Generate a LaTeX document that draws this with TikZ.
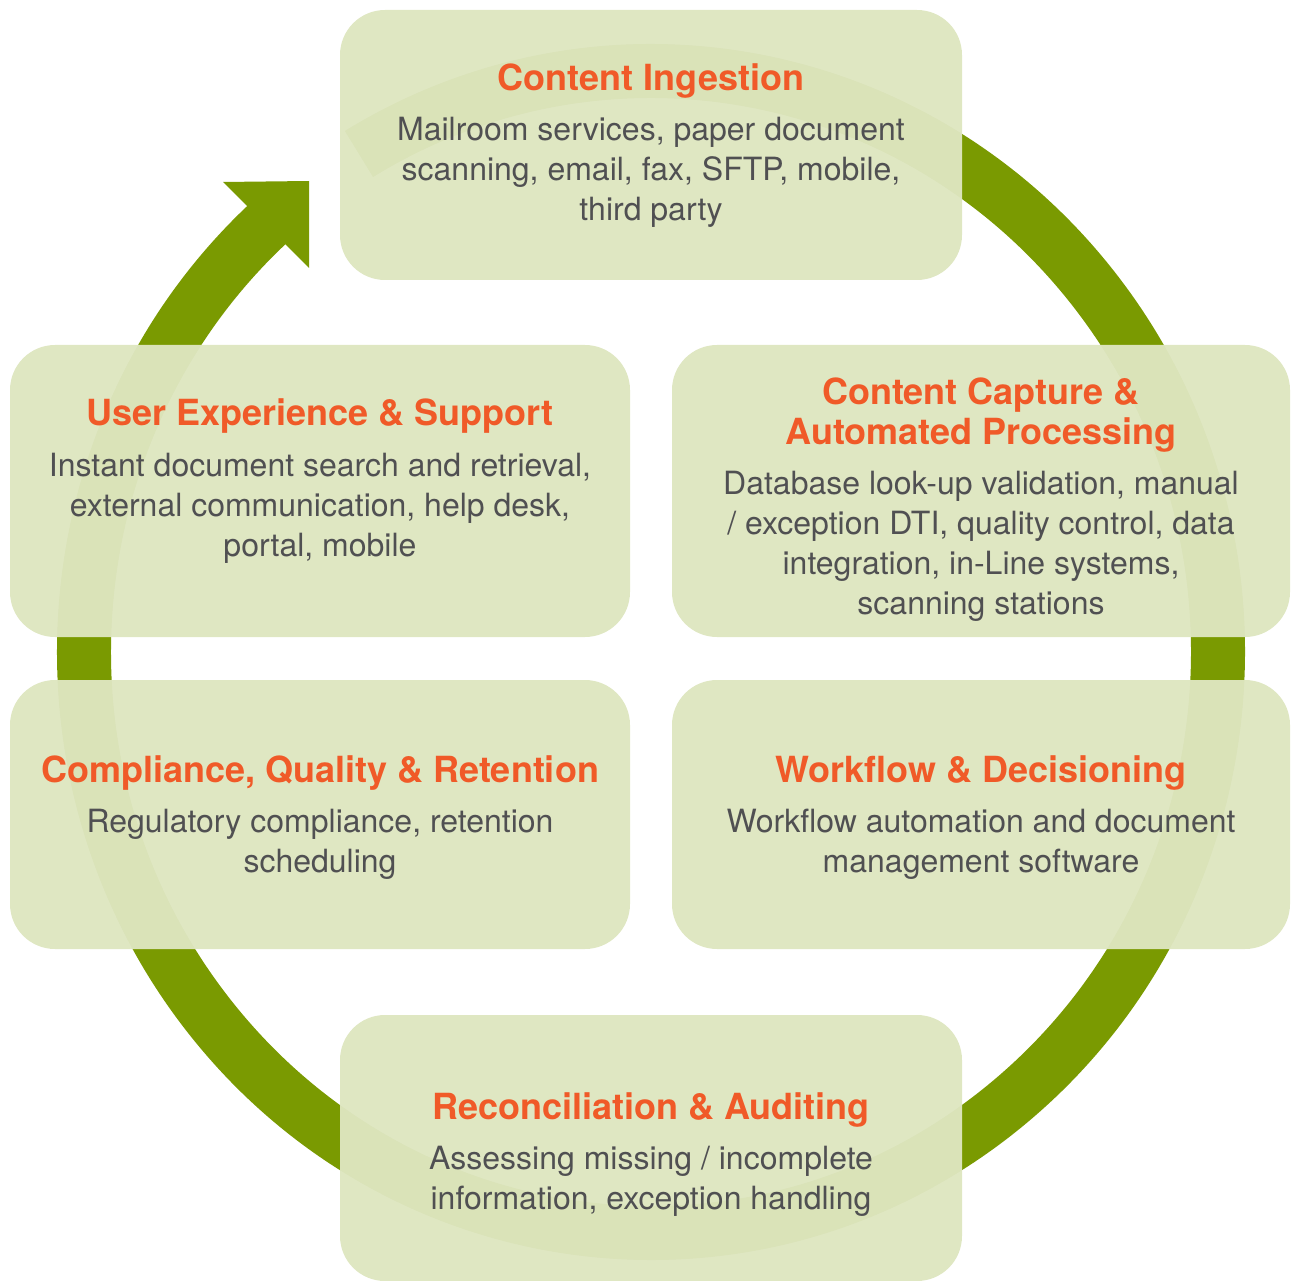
\documentclass[tikz,border=0pt]{standalone}
\usepackage{fontspec}
\setmainfont{TeX Gyre Heros}
\definecolor{ringgreen}{RGB}{122,154,1}
\definecolor{boxfill}{RGB}{222,230,192}
\definecolor{titleorange}{RGB}{240,90,40}
\definecolor{bodygray}{RGB}{80,80,82}
\begin{document}
\begin{tikzpicture}[x=1pt,y=-1pt,
  box/.style={draw=none, fill=boxfill, fill opacity=0.96, rounded corners=45pt, inner sep=0pt},
  ttl/.style={text=titleorange, font=\fontsize{36}{40}\bfseries\selectfont, align=center, anchor=base, inner sep=0pt},
  bdy/.style={text=bodygray, font=\fontsize{32}{40}\selectfont, align=center, anchor=base, inner sep=0pt},
  ring/.style={draw=ringgreen, line width=54pt}]
\useasboundingbox (0,0) rectangle (1291,1281);
% cycle ring
\draw[ring] ([shift={(-130:567 and 581)}]651,652) arc[start angle=-130, end angle=-481, x radius=567, y radius=581];
\fill[ringgreen] (223,182) -- (309,181) -- (309,268) -- cycle;
% boxes
\node[box, minimum width=622pt, minimum height=270pt] (ci) at (651,145) {};
\node[box, minimum width=620pt, minimum height=292pt] (ux) at (320,491) {};
\node[box, minimum width=618pt, minimum height=292pt] (cc) at (981,491) {};
\node[box, minimum width=620pt, minimum height=269pt] (co) at (320,814.5) {};
\node[box, minimum width=618pt, minimum height=269pt] (wf) at (981,814.5) {};
\node[box, minimum width=622pt, minimum height=266pt] (re) at (651,1148) {};
% texts (base anchor = baseline of the last line)
\node[ttl] (ciT) at (651,91) {Content Ingestion};
\node[bdy] (ciB) at (651,221) {Mailroom services, paper document\\scanning, email, fax, SFTP, mobile,\\third party};
\node[ttl] (uxT) at (320,425) {User Experience \& Support};
\node[bdy] (uxB) at (320,556) {Instant document search and retrieval,\\external communication, help desk,\\portal, mobile};
\node[ttl] (ccT) at (981,444) {Content Capture \&\\Automated Processing};
\node[bdy] (ccB) at (981,614) {Database look-up validation, manual\\/ exception DTI, quality control, data\\integration, in-Line systems,\\scanning stations};
\node[ttl] (coT) at (320,782) {Compliance, Quality \& Retention};
\node[bdy] (coB) at (320,872) {Regulatory compliance, retention\\scheduling};
\node[ttl] (wfT) at (981,782) {Workflow \& Decisioning};
\node[bdy] (wfB) at (981,872) {Workflow automation and document\\management software};
\node[ttl] (reT) at (651,1119) {Reconciliation \& Auditing};
\node[bdy] (reB) at (651,1209) {Assessing missing / incomplete\\information, exception handling};
\end{tikzpicture}
\end{document}
